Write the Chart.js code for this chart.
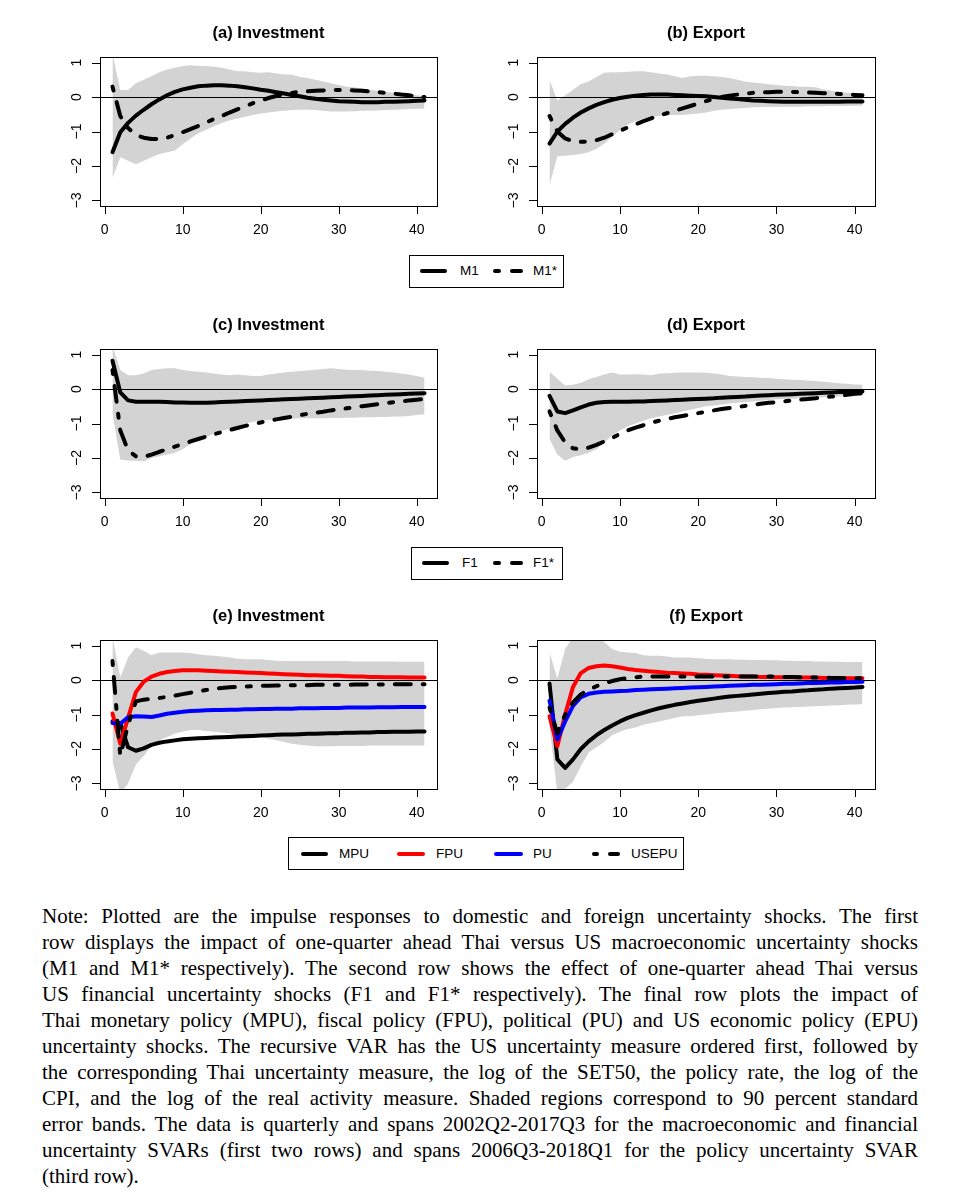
<!DOCTYPE html>
<html>
<head>
<meta charset="utf-8">
<script src="https://cdn.jsdelivr.net/npm/chart.js@4.4.1/dist/chart.umd.min.js"></script>
<style>
html,body{margin:0;padding:0;background:#fff;}
body{width:960px;height:1199px;position:relative;overflow:hidden;}
canvas{position:absolute;}
.lbox{position:absolute;border:1px solid #000;box-sizing:border-box;}
.ltxt{position:absolute;font-family:"Liberation Sans",Arial,sans-serif;font-size:13.5px;line-height:16px;color:#000;white-space:nowrap;}
.lseg{position:absolute;height:4px;border-radius:2px;}
#note{position:absolute;left:42px;top:903px;width:876px;font-family:"Liberation Serif","Times New Roman",serif;font-size:21px;line-height:26px;color:#000;}
#note div{white-space:nowrap;text-align:justify;text-align-last:justify;}
#note div.last{text-align-last:left;}
</style>
</head>
<body>
<script>
// ---------- data ----------
const horizons = [1,2,3,4,5,6,7,8,9,10,11,12,13,14,15,16,17,18,19,20,21,22,23,24,25,26,27,28,29,30,31,32,33,34,35,36,37,38,39,40,41];
const xTicks = [0,10,20,30,40];
const yTicks = [-3,-2,-1,0,1];
const yTickLabels = ['\u22123','\u22122','\u22121','0','1'];

// (a) Investment, macro uncertainty
const invM1  = [-1.60,-1.02,-0.75,-0.54,-0.37,-0.21,-0.07,0.05,0.15,0.22,0.27,0.31,0.33,0.34,0.34,0.33,0.31,0.28,0.25,0.21,0.18,0.14,0.10,0.06,0.02,-0.02,-0.05,-0.08,-0.10,-0.12,-0.13,-0.14,-0.15,-0.15,-0.15,-0.14,-0.14,-0.13,-0.12,-0.11,-0.10];
const invM1s = [0.30,-0.55,-0.90,-1.10,-1.18,-1.22,-1.22,-1.18,-1.10,-1.02,-0.93,-0.84,-0.74,-0.64,-0.55,-0.45,-0.36,-0.27,-0.18,-0.10,-0.03,0.03,0.08,0.12,0.15,0.17,0.18,0.19,0.20,0.20,0.20,0.19,0.18,0.16,0.14,0.12,0.10,0.07,0.05,0.02,0.00];
const bandAUp = [1.25,0.20,0.20,0.40,0.50,0.60,0.72,0.80,0.85,0.90,0.92,0.90,0.90,0.88,0.85,0.80,0.75,0.75,0.72,0.70,0.72,0.68,0.65,0.65,0.58,0.55,0.50,0.45,0.40,0.35,0.30,0.28,0.25,0.20,0.18,0.15,0.12,0.10,0.08,0.05,0.03];
const bandALo = [-2.35,-1.75,-1.85,-1.95,-1.85,-1.75,-1.65,-1.60,-1.55,-1.37,-1.20,-1.05,-0.95,-0.85,-0.75,-0.68,-0.62,-0.57,-0.52,-0.48,-0.45,-0.42,-0.40,-0.38,-0.37,-0.37,-0.38,-0.40,-0.42,-0.42,-0.42,-0.41,-0.40,-0.40,-0.39,-0.38,-0.37,-0.36,-0.35,-0.34,-0.33];

// (b) Export, macro uncertainty
const expM1  = [-1.35,-1.00,-0.78,-0.60,-0.45,-0.33,-0.23,-0.15,-0.08,-0.03,0.01,0.04,0.06,0.07,0.07,0.07,0.06,0.05,0.04,0.03,0.02,0.00,-0.02,-0.04,-0.06,-0.08,-0.10,-0.11,-0.12,-0.13,-0.14,-0.14,-0.14,-0.14,-0.14,-0.14,-0.14,-0.14,-0.13,-0.13,-0.13];
const expM1s = [-0.55,-1.00,-1.20,-1.28,-1.30,-1.29,-1.25,-1.18,-1.08,-0.98,-0.88,-0.79,-0.70,-0.62,-0.54,-0.47,-0.40,-0.33,-0.26,-0.19,-0.12,-0.05,0.00,0.04,0.07,0.10,0.12,0.13,0.14,0.15,0.15,0.15,0.14,0.13,0.12,0.11,0.10,0.09,0.07,0.06,0.05];
const bandBUp = [0.50,-0.10,0.05,0.20,0.38,0.45,0.58,0.70,0.72,0.72,0.73,0.75,0.75,0.72,0.68,0.65,0.60,0.55,0.60,0.62,0.62,0.60,0.58,0.55,0.50,0.45,0.42,0.40,0.37,0.35,0.33,0.32,0.30,0.30,0.28,0.22,0.18,0.15,0.12,0.10,0.10];
const bandBLo = [-2.55,-1.72,-1.70,-1.68,-1.65,-1.60,-1.50,-1.35,-1.15,-0.95,-0.80,-0.70,-0.62,-0.58,-0.55,-0.52,-0.52,-0.52,-0.50,-0.48,-0.45,-0.40,-0.37,-0.35,-0.33,-0.32,-0.30,-0.30,-0.29,-0.29,-0.28,-0.28,-0.28,-0.27,-0.27,-0.27,-0.26,-0.26,-0.26,-0.25,-0.25];

// (c) Investment, financial uncertainty
const invF1  = [0.82,-0.10,-0.33,-0.37,-0.37,-0.37,-0.37,-0.38,-0.39,-0.39,-0.40,-0.40,-0.40,-0.39,-0.38,-0.37,-0.36,-0.35,-0.34,-0.33,-0.32,-0.31,-0.30,-0.29,-0.28,-0.27,-0.26,-0.25,-0.24,-0.23,-0.22,-0.21,-0.20,-0.19,-0.18,-0.17,-0.16,-0.15,-0.14,-0.13,-0.12];
const invF1s = [0.55,-1.20,-1.78,-1.95,-1.97,-1.90,-1.82,-1.75,-1.67,-1.60,-1.52,-1.45,-1.38,-1.31,-1.25,-1.19,-1.13,-1.07,-1.02,-0.97,-0.92,-0.88,-0.84,-0.80,-0.76,-0.72,-0.69,-0.66,-0.62,-0.59,-0.56,-0.53,-0.50,-0.47,-0.44,-0.41,-0.38,-0.36,-0.33,-0.31,-0.29];
const bandCUp = [1.25,0.55,0.40,0.40,0.45,0.55,0.58,0.60,0.60,0.55,0.52,0.50,0.48,0.45,0.42,0.40,0.42,0.40,0.38,0.38,0.42,0.45,0.48,0.50,0.52,0.54,0.56,0.58,0.60,0.58,0.56,0.55,0.55,0.53,0.52,0.50,0.48,0.45,0.42,0.38,0.33];
const bandCLo = [-0.70,-2.05,-2.07,-2.08,-2.10,-2.00,-1.95,-1.90,-1.85,-1.75,-1.60,-1.50,-1.40,-1.30,-1.22,-1.15,-1.08,-1.00,-0.95,-0.92,-0.90,-0.88,-0.87,-0.86,-0.85,-0.85,-0.85,-0.85,-0.84,-0.84,-0.83,-0.83,-0.82,-0.82,-0.81,-0.81,-0.80,-0.80,-0.78,-0.75,-0.73];

// (d) Export, financial uncertainty
const expF1  = [-0.20,-0.65,-0.70,-0.62,-0.53,-0.45,-0.40,-0.38,-0.37,-0.37,-0.37,-0.36,-0.36,-0.35,-0.34,-0.33,-0.32,-0.31,-0.30,-0.29,-0.28,-0.27,-0.25,-0.24,-0.23,-0.22,-0.20,-0.19,-0.18,-0.17,-0.16,-0.15,-0.14,-0.13,-0.12,-0.11,-0.10,-0.09,-0.09,-0.08,-0.07];
const expF1s = [-0.65,-1.20,-1.55,-1.72,-1.75,-1.70,-1.62,-1.52,-1.42,-1.30,-1.20,-1.12,-1.05,-0.98,-0.92,-0.87,-0.82,-0.78,-0.74,-0.70,-0.66,-0.62,-0.58,-0.55,-0.52,-0.49,-0.46,-0.43,-0.40,-0.38,-0.36,-0.33,-0.31,-0.29,-0.27,-0.24,-0.22,-0.20,-0.17,-0.14,-0.12];
const bandDUp = [0.50,0.30,0.10,0.12,0.18,0.28,0.35,0.42,0.48,0.42,0.42,0.43,0.42,0.40,0.45,0.46,0.47,0.48,0.48,0.48,0.47,0.45,0.42,0.38,0.36,0.35,0.34,0.33,0.32,0.30,0.28,0.27,0.26,0.25,0.23,0.21,0.19,0.17,0.15,0.13,0.12];
const bandDLo = [-1.45,-1.90,-2.08,-1.97,-1.92,-1.85,-1.75,-1.55,-1.35,-1.20,-1.08,-1.00,-0.92,-0.85,-0.80,-0.75,-0.70,-0.65,-0.60,-0.55,-0.50,-0.48,-0.45,-0.42,-0.40,-0.38,-0.36,-0.34,-0.32,-0.30,-0.29,-0.28,-0.27,-0.26,-0.25,-0.24,-0.23,-0.22,-0.21,-0.21,-0.20];

// (e) Investment, policy uncertainty
const invMPU   = [-1.20,-1.25,-1.95,-2.05,-1.98,-1.88,-1.82,-1.78,-1.75,-1.72,-1.70,-1.69,-1.68,-1.67,-1.66,-1.65,-1.64,-1.63,-1.62,-1.61,-1.60,-1.59,-1.58,-1.58,-1.57,-1.56,-1.56,-1.55,-1.54,-1.54,-1.53,-1.53,-1.52,-1.52,-1.51,-1.51,-1.50,-1.50,-1.50,-1.49,-1.49];
const invFPU   = [-0.97,-1.85,-1.10,-0.35,-0.05,0.10,0.18,0.23,0.26,0.28,0.28,0.28,0.27,0.26,0.25,0.24,0.23,0.22,0.21,0.20,0.19,0.18,0.17,0.16,0.15,0.14,0.14,0.13,0.12,0.12,0.11,0.10,0.10,0.09,0.09,0.08,0.08,0.08,0.07,0.07,0.07];
const invPU    = [-1.25,-1.27,-1.08,-1.05,-1.06,-1.07,-1.03,-0.98,-0.95,-0.92,-0.90,-0.89,-0.88,-0.87,-0.87,-0.86,-0.86,-0.85,-0.85,-0.84,-0.84,-0.83,-0.83,-0.83,-0.82,-0.82,-0.82,-0.81,-0.81,-0.81,-0.80,-0.80,-0.80,-0.80,-0.79,-0.79,-0.79,-0.78,-0.78,-0.78,-0.78];
const invUSEPU = [0.55,-2.20,-1.30,-0.62,-0.57,-0.55,-0.52,-0.49,-0.45,-0.41,-0.37,-0.33,-0.29,-0.26,-0.23,-0.21,-0.20,-0.19,-0.18,-0.17,-0.17,-0.16,-0.16,-0.15,-0.15,-0.15,-0.14,-0.14,-0.14,-0.14,-0.14,-0.13,-0.13,-0.13,-0.13,-0.13,-0.12,-0.12,-0.12,-0.12,-0.12];
const bandEUp = [1.25,0.08,0.65,0.95,0.85,0.72,0.80,0.80,0.80,0.80,0.78,0.75,0.72,0.70,0.68,0.65,0.62,0.60,0.60,0.60,0.58,0.56,0.55,0.55,0.55,0.55,0.55,0.55,0.55,0.55,0.55,0.54,0.54,0.54,0.54,0.54,0.54,0.53,0.53,0.53,0.53];
const bandELo = [-2.35,-3.30,-3.00,-2.45,-2.20,-1.90,-1.75,-1.65,-1.55,-1.50,-1.45,-1.45,-1.48,-1.50,-1.52,-1.55,-1.58,-1.60,-1.62,-1.65,-1.70,-1.75,-1.80,-1.85,-1.88,-1.90,-1.92,-1.92,-1.92,-1.91,-1.91,-1.91,-1.91,-1.90,-1.90,-1.90,-1.90,-1.90,-1.90,-1.90,-1.90];

// (f) Export, policy uncertainty
const expMPU   = [-0.10,-2.30,-2.55,-2.30,-2.00,-1.78,-1.60,-1.45,-1.32,-1.20,-1.10,-1.02,-0.95,-0.88,-0.82,-0.77,-0.72,-0.68,-0.64,-0.60,-0.57,-0.54,-0.51,-0.48,-0.46,-0.44,-0.42,-0.40,-0.38,-0.36,-0.34,-0.33,-0.31,-0.30,-0.28,-0.27,-0.25,-0.24,-0.23,-0.22,-0.20];
const expFPU   = [-1.05,-1.92,-1.00,-0.20,0.20,0.35,0.40,0.42,0.40,0.36,0.32,0.29,0.27,0.25,0.23,0.21,0.20,0.19,0.18,0.16,0.15,0.14,0.13,0.12,0.11,0.10,0.10,0.09,0.09,0.08,0.08,0.08,0.07,0.07,0.07,0.06,0.06,0.06,0.05,0.05,0.05];
const expPU    = [-0.60,-1.72,-1.20,-0.75,-0.50,-0.40,-0.36,-0.34,-0.33,-0.32,-0.31,-0.29,-0.28,-0.27,-0.26,-0.25,-0.24,-0.23,-0.22,-0.21,-0.20,-0.19,-0.18,-0.17,-0.16,-0.15,-0.14,-0.14,-0.13,-0.12,-0.11,-0.11,-0.10,-0.09,-0.09,-0.08,-0.07,-0.07,-0.06,-0.06,-0.05];
const expUSEPU = [-0.80,-1.55,-1.00,-0.65,-0.42,-0.28,-0.18,-0.10,-0.03,0.02,0.06,0.08,0.10,0.10,0.10,0.10,0.10,0.10,0.10,0.10,0.10,0.10,0.10,0.10,0.10,0.10,0.10,0.10,0.10,0.10,0.09,0.09,0.08,0.08,0.07,0.07,0.06,0.06,0.05,0.05,0.05];
const bandFUp = [0.80,0.05,0.90,1.25,1.25,1.25,1.25,1.10,0.90,0.82,0.80,0.78,0.72,0.70,0.70,0.68,0.65,0.65,0.65,0.63,0.62,0.60,0.60,0.60,0.59,0.59,0.58,0.58,0.57,0.57,0.56,0.56,0.55,0.55,0.54,0.54,0.53,0.53,0.52,0.52,0.52];
const bandFLo = [-1.30,-3.30,-3.15,-2.95,-2.50,-2.10,-1.95,-1.80,-1.60,-1.50,-1.42,-1.38,-1.30,-1.25,-1.20,-1.15,-1.10,-1.05,-1.05,-1.02,-1.00,-0.97,-0.95,-0.93,-0.91,-0.89,-0.87,-0.85,-0.83,-0.81,-0.80,-0.79,-0.78,-0.77,-0.76,-0.75,-0.74,-0.73,-0.72,-0.71,-0.70];

// ---------- drawing ----------
const BLACK = '#000000', RED = '#ff0000', BLUE = '#0000ff', BAND = '#d3d3d3';
const DOTDASH = [4, 12, 16, 12];

const panels = [
  {title:'(a) Investment', col:0, row:0, up:bandAUp, lo:bandALo, series:[
    {label:'M1', data:invM1, color:BLACK, dash:false}, {label:'M1*', data:invM1s, color:BLACK, dash:true}]},
  {title:'(b) Export', col:1, row:0, up:bandBUp, lo:bandBLo, series:[
    {label:'M1', data:expM1, color:BLACK, dash:false}, {label:'M1*', data:expM1s, color:BLACK, dash:true}]},
  {title:'(c) Investment', col:0, row:1, up:bandCUp, lo:bandCLo, series:[
    {label:'F1', data:invF1, color:BLACK, dash:false}, {label:'F1*', data:invF1s, color:BLACK, dash:true}]},
  {title:'(d) Export', col:1, row:1, up:bandDUp, lo:bandDLo, series:[
    {label:'F1', data:expF1, color:BLACK, dash:false}, {label:'F1*', data:expF1s, color:BLACK, dash:true}]},
  {title:'(e) Investment', col:0, row:2, up:bandEUp, lo:bandELo, series:[
    {label:'MPU', data:invMPU, color:BLACK, dash:false}, {label:'FPU', data:invFPU, color:RED, dash:false},
    {label:'PU', data:invPU, color:BLUE, dash:false}, {label:'USEPU', data:invUSEPU, color:BLACK, dash:true}]},
  {title:'(f) Export', col:1, row:2, up:bandFUp, lo:bandFLo, series:[
    {label:'MPU', data:expMPU, color:BLACK, dash:false}, {label:'FPU', data:expFPU, color:RED, dash:false},
    {label:'PU', data:expPU, color:BLUE, dash:false}, {label:'USEPU', data:expUSEPU, color:BLACK, dash:true}]}
];

const rowTop = [0, 292, 583];
const colPad = [{left:100, right:43}, {left:57, right:85}];

function pts(arr){ return horizons.map((h,i)=>({x:h, y:arr[i]})); }

const rAxes = {
  id:'rAxes',
  afterDatasetDraw(chart, args){
    if (args.index !== 0) return;
    const ca = chart.chartArea, ctx = chart.ctx, ys = chart.scales.y;
    const y0 = Math.round(ys.getPixelForValue(0)) + 0.5;
    ctx.save();
    ctx.strokeStyle = BLACK; ctx.lineWidth = 1; ctx.setLineDash([]);
    ctx.beginPath(); ctx.moveTo(ca.left, y0); ctx.lineTo(ca.right, y0); ctx.stroke();
    ctx.restore();
  },
  afterDraw(chart){
    const ca = chart.chartArea, ctx = chart.ctx, xs = chart.scales.x, ys = chart.scales.y;
    ctx.save();
    ctx.strokeStyle = BLACK; ctx.fillStyle = BLACK; ctx.lineWidth = 1; ctx.setLineDash([]);
    ctx.strokeRect(Math.round(ca.left)+0.5, Math.round(ca.top)+0.5, Math.round(ca.right-ca.left), Math.round(ca.bottom-ca.top));
    ctx.font = '14px "Liberation Sans", Arial, sans-serif';
    ctx.textAlign = 'center'; ctx.textBaseline = 'middle';
    yTicks.forEach((v,i)=>{
      const y = Math.round(ys.getPixelForValue(v)) + 0.5;
      ctx.beginPath(); ctx.moveTo(Math.round(ca.left)-8, y); ctx.lineTo(Math.round(ca.left), y); ctx.stroke();
      ctx.save(); ctx.translate(ca.left - 23, ys.getPixelForValue(v)); ctx.rotate(-Math.PI/2);
      ctx.fillText(yTickLabels[i], 0, 0); ctx.restore();
    });
    xTicks.forEach(v=>{
      const x = Math.round(xs.getPixelForValue(v)) + 0.5;
      ctx.beginPath(); ctx.moveTo(x, Math.round(ca.bottom)); ctx.lineTo(x, Math.round(ca.bottom)+8); ctx.stroke();
      ctx.fillText(String(v), xs.getPixelForValue(v), ca.bottom + 24.5);
    });
    ctx.font = 'bold 16.5px "Liberation Sans", Arial, sans-serif';
    ctx.fillText(chart.options.plugins.rAxes.title, (ca.left+ca.right)/2, ca.top - 24);
    ctx.restore();
  }
};

panels.forEach(p=>{
  const cv = document.createElement('canvas');
  cv.width = 480; cv.height = 250;
  cv.style.left = (p.col*480)+'px'; cv.style.top = rowTop[p.row]+'px';
  cv.style.width = '480px'; cv.style.height = '250px';
  document.body.appendChild(cv);
  const n = p.series.length;
  const datasets = [
    {label:'band upper', data:pts(p.up), fill:'+1', backgroundColor:BAND, borderColor:'rgba(0,0,0,0)', borderWidth:0, pointRadius:0, order:20},
    {label:'band lower', data:pts(p.lo), fill:false, borderColor:'rgba(0,0,0,0)', borderWidth:0, pointRadius:0, order:19}
  ].concat(p.series.map((s,i)=>({
    label:s.label, data:pts(s.data), borderColor:s.color, backgroundColor:s.color, borderWidth:4,
    borderDash: s.dash ? DOTDASH : [], borderCapStyle:'round', borderJoinStyle:'round',
    pointRadius:0, fill:false, tension:0, order: n - i
  })));
  new Chart(cv, {
    type:'line',
    data:{datasets},
    options:{
      responsive:false, animation:false, devicePixelRatio:1, events:[],
      layout:{padding:{left:colPad[p.col].left, right:colPad[p.col].right, top:57, bottom:44}},
      plugins:{legend:{display:false}, tooltip:{enabled:false}, title:{display:false}, rAxes:{title:p.title}},
      scales:{
        x:{type:'linear', min:-0.6, max:42.6, display:false},
        y:{type:'linear', min:-3.16, max:1.16, display:false}
      }
    },
    plugins:[rAxes]
  });
});
</script>

<!-- legend 1 -->
<div class="lbox" style="left:409px;top:255px;width:155px;height:33px;"></div>
<div class="lseg" style="left:420px;top:269px;width:27px;background:#000;"></div>
<div class="ltxt" style="left:460px;top:263px;">M1</div>
<div class="lseg" style="left:493px;top:269px;width:8px;background:#000;"></div>
<div class="lseg" style="left:510px;top:269px;width:13px;background:#000;"></div>
<div class="ltxt" style="left:533px;top:263px;">M1*</div>

<!-- legend 2 -->
<div class="lbox" style="left:411px;top:547px;width:152px;height:33px;"></div>
<div class="lseg" style="left:422px;top:561px;width:27px;background:#000;"></div>
<div class="ltxt" style="left:462px;top:555px;">F1</div>
<div class="lseg" style="left:493px;top:561px;width:8px;background:#000;"></div>
<div class="lseg" style="left:510px;top:561px;width:13px;background:#000;"></div>
<div class="ltxt" style="left:533px;top:555px;">F1*</div>

<!-- legend 3 -->
<div class="lbox" style="left:288px;top:837px;width:396px;height:33px;"></div>
<div class="lseg" style="left:301px;top:852px;width:27px;background:#000;"></div>
<div class="ltxt" style="left:339px;top:846px;">MPU</div>
<div class="lseg" style="left:397px;top:852px;width:28px;background:#ff0000;"></div>
<div class="ltxt" style="left:436px;top:846px;">FPU</div>
<div class="lseg" style="left:494px;top:852px;width:29px;background:#0000ff;"></div>
<div class="ltxt" style="left:533px;top:846px;">PU</div>
<div class="lseg" style="left:592px;top:852px;width:7px;background:#000;"></div>
<div class="lseg" style="left:608px;top:852px;width:12px;background:#000;"></div>
<div class="ltxt" style="left:631px;top:846px;">USEPU</div>

<div id="note">
<div>Note: Plotted are the impulse responses to domestic and foreign uncertainty shocks. The first</div>
<div>row displays the impact of one-quarter ahead Thai versus US macroeconomic uncertainty shocks</div>
<div>(M1 and M1* respectively). The second row shows the effect of one-quarter ahead Thai versus</div>
<div>US financial uncertainty shocks (F1 and F1* respectively). The final row plots the impact of</div>
<div>Thai monetary policy (MPU), fiscal policy (FPU), political (PU) and US economic policy (EPU)</div>
<div>uncertainty shocks. The recursive VAR has the US uncertainty measure ordered first, followed by</div>
<div>the corresponding Thai uncertainty measure, the log of the SET50, the policy rate, the log of the</div>
<div>CPI, and the log of the real activity measure. Shaded regions correspond to 90 percent standard</div>
<div>error bands. The data is quarterly and spans 2002Q2-2017Q3 for the macroeconomic and financial</div>
<div>uncertainty SVARs (first two rows) and spans 2006Q3-2018Q1 for the policy uncertainty SVAR</div>
<div class="last">(third row).</div>
</div>
</body>
</html>
